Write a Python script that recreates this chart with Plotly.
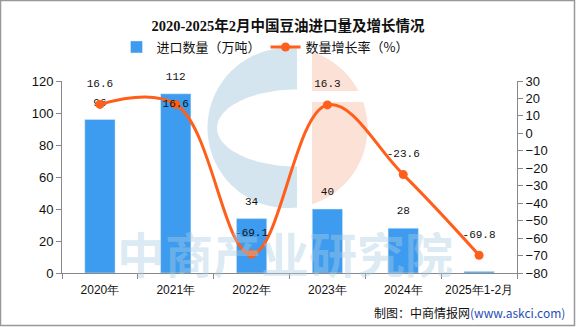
import numpy as np
import plotly.graph_objects as go

categories = ["2020年", "2021年", "2022年", "2023年", "2024年", "2025年1-2月"]
import_volume = [96, 112, 34, 40, 28, 1]
growth_rate = [16.6, 16.6, -69.1, 16.3, -23.6, -69.8]
growth_text_pos = ["top center", "middle center", "top center", "top center", "top center", "top center"]

W, H = 576, 327
L, R, T, B = 62, 517, 81, 273


def px(x):
    return (x - L) / (R - L)


def py(y):
    return (B - y) / (B - T)


def poly(points):
    return "M " + " L ".join(f"{px(x):.5f},{py(y):.5f}" for x, y in points) + " Z"


# logo geometry (pixels)
cx, cy, r = 287.5, 128.0, 80.0
xs_cut = 297.0
dy_cut = np.sqrt(r**2 - (xs_cut - cx) ** 2)
a_top = np.arctan2(-dy_cut, xs_cut - cx)
a_bot = np.arctan2(dy_cut, xs_cut - cx)
angs = np.linspace(a_top, a_bot - 2 * np.pi, 80)
outer = [(cx + r * np.cos(a), cy + r * np.sin(a)) for a in angs]
ex, ey, erx, ery = 297.0, 128.0, 80.0, 38.5
t = np.linspace(np.pi / 2, 3 * np.pi / 2, 60)
inner = [(ex + erx * np.cos(a), ey + ery * np.sin(a)) for a in t]
blue_pts = outer + [(xs_cut, ey + ery)] + inner + [(xs_cut, ey - ery)]

xo = 312.0
band_top, band_bot = 91.0, 102.0


def right_piece(y0, y1):
    ys = np.linspace(y0, y1, 60)
    pts = []
    for yv in ys:
        dx = np.sqrt(max(r**2 - (yv - cy) ** 2, 0))
        pts.append((max(cx + dx, xo), yv))
    return [(xo, y0)] + pts + [(xo, y1)]


top_y = cy - np.sqrt(r**2 - (xo - cx) ** 2)
bot_y = cy + np.sqrt(r**2 - (xo - cx) ** 2)
orange_top = right_piece(top_y, band_top)
orange_bot = right_piece(band_bot, bot_y)

label_font = dict(family="Liberation Mono", size=11, color="#111")

fig = go.Figure()
fig.add_trace(go.Bar(
    x=categories, y=import_volume, name="进口数量（万吨）",
    marker=dict(color="#3d9cf0"), yaxis="y",
))
fig.add_trace(go.Scatter(
    x=categories, y=growth_rate, name="数量增长率（%）", yaxis="y2",
    mode="lines+markers", line=dict(color="#ff5f1a", width=3, shape="spline", smoothing=1.1),
    marker=dict(color="#ff5f1a", size=9), cliponaxis=False,
))
# bar value labels
fig.add_trace(go.Scatter(
    x=categories, y=import_volume, yaxis="y", mode="markers+text", text=[str(v) for v in import_volume],
    marker=dict(size=16, opacity=0), textposition="top center", textfont=label_font,
    showlegend=False, cliponaxis=False, hoverinfo="skip",
))
# growth labels
fig.add_trace(go.Scatter(
    x=categories, y=growth_rate, yaxis="y2", mode="markers+text", text=[f"{v}" for v in growth_rate],
    marker=dict(size=22, opacity=0), textposition=growth_text_pos, textfont=label_font,
    showlegend=False, cliponaxis=False, hoverinfo="skip",
))

shapes = [
    dict(type="path", xref="paper", yref="paper", path=poly(blue_pts),
         fillcolor="#d4e5ef", line=dict(width=0), layer="below"),
    dict(type="path", xref="paper", yref="paper", path=poly(orange_top),
         fillcolor="#fbe1d6", line=dict(width=0), layer="below"),
    dict(type="path", xref="paper", yref="paper", path=poly(orange_bot),
         fillcolor="#fbe1d6", line=dict(width=0), layer="below"),
    dict(type="rect", xref="paper", yref="paper", x0=px(0.5), x1=px(W - 1.5), y0=py(H - 1.5), y1=py(0.5),
         line=dict(color="#999", width=1.5), fillcolor="rgba(0,0,0,0)", layer="below"),
]

annotations = [
    dict(text="<b>中商产业研究院</b>", xref="paper", yref="paper", x=px(285), y=py(252),
         xanchor="center", yanchor="middle",
         showarrow=False, font=dict(family="Noto Sans CJK SC", size=48, color="rgba(170,205,226,0.42)")),
    dict(text="制图：中商情报网<span style='color:#1f4fb5'>(www.askci.com)</span>", xref="paper", yref="paper",
         x=px(567), y=py(312), xanchor="right", yanchor="middle", showarrow=False,
         font=dict(family="Noto Sans CJK SC", size=12, color="#111")),
]

axis_common = dict(showgrid=False, zeroline=False, showline=True, linecolor="#888", linewidth=1,
                   ticks="outside", ticklen=5, tickcolor="#888",
                   tickfont=dict(family="Liberation Sans", size=13, color="#111"))

fig.update_layout(
    width=W, height=H, margin=dict(l=L, r=W - R, t=T, b=H - B),
    paper_bgcolor="white", plot_bgcolor="white",
    title=dict(text="<b>2020-2025年2月中国豆油进口量及增长情况</b>", x=0.5, xanchor="center",
               y=1 - 26 / H, yanchor="middle", yref="container",
               font=dict(family="Liberation Serif, Noto Sans CJK SC", size=14.5, color="#111")),
    legend=dict(orientation="h", x=px(265), xanchor="center", y=py(47), yanchor="middle",
                font=dict(family="Noto Sans CJK SC", size=13, color="#111"), bgcolor="rgba(0,0,0,0)",
                traceorder="normal", itemwidth=30),
    bargap=0.6, showlegend=True,
    xaxis=dict(showgrid=False, showline=True, linecolor="#888", ticks="outside", ticklen=5, tickcolor="#888",
               tickson="boundaries", tickangle=0, automargin=False, ticklabelstandoff=6,
               tickfont=dict(family="Liberation Sans", size=12, color="#111")),
    yaxis=dict(range=[0, 120], dtick=20, automargin=False, **axis_common),
    yaxis2=dict(range=[-80, 30], dtick=10, overlaying="y", side="right", automargin=False, **axis_common),
    shapes=shapes, annotations=annotations,
)

fig.write_html("out.html")
